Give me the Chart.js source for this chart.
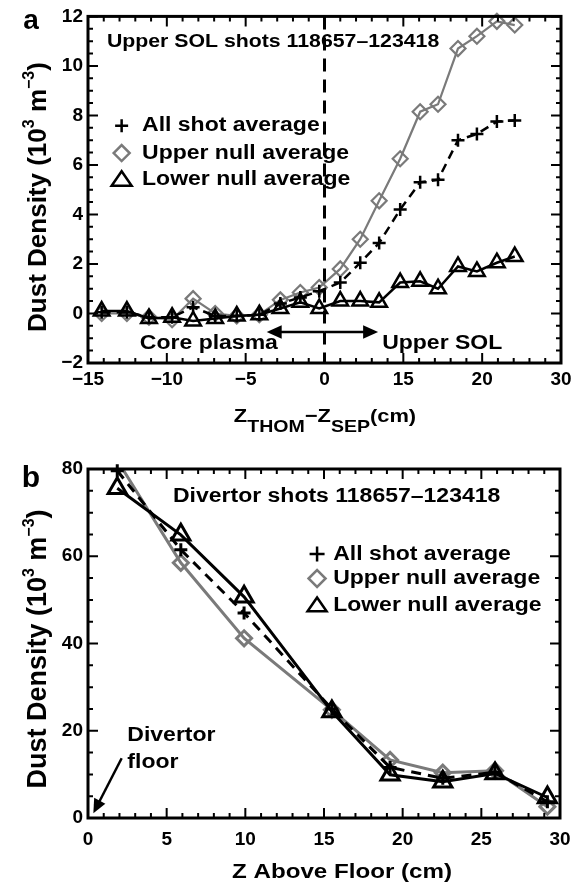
<!DOCTYPE html>
<html>
<head>
<meta charset="utf-8">
<script src="https://cdn.jsdelivr.net/npm/chart.js@4.4.0/dist/chart.umd.min.js"></script>
<style>
  html, body { margin: 0; padding: 0; background: #fff; }
  #wrap { position: relative; width: 583px; height: 884px; }
  canvas { position: absolute; left: 0; }
  #chartA { top: 0; }
  #chartB { top: 440px; }
</style>
</head>
<body>
<div id="wrap">
  <canvas id="chartA" width="583" height="440"></canvas>
  <canvas id="chartB" width="583" height="444"></canvas>
</div>
<script>
// ---- panel a: upper SOL ----
const posA = [-13.7, -11.3, -9.2, -7.0, -5.0, -2.9, -0.85, 1.3, 3.3, 5.2, 7.0, 9.0, 10.9, 12.7, 14.7, 16.6, 18.3, 20.2, 22.0, 23.9, 25.6];
const allShotA = [0.05, 0.05, -0.15, -0.15, 0.25, -0.1, -0.1, -0.05, 0.4, 0.65, 0.9, 1.25, 2.05, 2.85, 4.2, 5.3, 5.4, 7.0, 7.25, 7.75, 7.8];
const upperNullA = [0.0, 0.0, -0.15, -0.25, 0.6, 0.0, -0.1, -0.05, 0.55, 0.85, 1.05, 1.8, 3.0, 4.55, 6.25, 8.15, 8.45, 10.7, 11.2, 11.8, 11.65];
const lowerNullA = [0.1, 0.1, -0.2, -0.15, -0.3, -0.2, -0.1, -0.05, 0.2, 0.45, 0.2, 0.5, 0.5, 0.45, 1.25, 1.3, 1.0, 1.9, 1.7, 2.05, 2.3];
const xTicksA = [-15, -7.5, 0, 7.5, 15, 22.5, 30];
const xLabelsA = ['\u221215', '\u221210', '\u22125', '0', '15', '20', '30'];
const sepA = 7.5;

// ---- panel b: divertor ----
const posB = [1.86, 5.9, 9.92, 15.5, 19.2, 22.55, 25.87, 29.2];
const allShotB = [79.6, 61.5, 47.0, 25.0, 11.6, 9.1, 10.5, 3.7];
const upperNullB = [82.0, 58.5, 41.2, 24.8, 13.3, 10.4, 10.85, 2.6];
const lowerNullB = [75.6, 64.9, 50.7, 24.4, 9.9, 8.3, 10.2, 4.7];

const FONT = '"Liberation Sans", Arial, Helvetica, sans-serif';
const GRAY = '#7a7a7a';
const SX = 1.15; // horizontal stretch of the annotation text

function put(ctx, str, x, y, size, align) {
    ctx.save();
    ctx.font = 'bold ' + size + 'px ' + FONT;
    ctx.fillStyle = '#000';
    ctx.textBaseline = 'middle';
    ctx.textAlign = 'left';
    const w = ctx.measureText(str).width * SX;
    ctx.translate(align === 'center' ? x - w / 2 : x, y);
    ctx.scale(SX, 1);
    ctx.fillText(str, 0, 0);
    ctx.restore();
}

function sym(ctx, kind, x, y, r, color, lw) {
    ctx.save();
    ctx.strokeStyle = color;
    ctx.lineWidth = lw;
    ctx.setLineDash([]);
    ctx.beginPath();
    if (kind === 'cross') {
        ctx.moveTo(x - r, y); ctx.lineTo(x + r, y);
        ctx.moveTo(x, y - r); ctx.lineTo(x, y + r);
    } else if (kind === 'rectRot') {
        ctx.moveTo(x - r, y); ctx.lineTo(x, y - r); ctx.lineTo(x + r, y); ctx.lineTo(x, y + r);
        ctx.closePath();
    } else {
        ctx.moveTo(x, y - r * 0.8); ctx.lineTo(x + r, y + r * 0.65); ctx.lineTo(x - r, y + r * 0.65);
        ctx.closePath();
    }
    ctx.stroke();
    ctx.restore();
}

function arrow(ctx, x1, y1, x2, y2, head, lw) {
    const a = Math.atan2(y2 - y1, x2 - x1);
    ctx.save();
    ctx.strokeStyle = '#000';
    ctx.fillStyle = '#000';
    ctx.lineWidth = lw;
    ctx.beginPath();
    ctx.moveTo(x1, y1);
    ctx.lineTo(x2 - Math.cos(a) * head * 0.8, y2 - Math.sin(a) * head * 0.8);
    ctx.stroke();
    ctx.beginPath();
    ctx.moveTo(x2, y2);
    ctx.lineTo(x2 - head * Math.cos(a) + head * 0.45 * Math.sin(a), y2 - head * Math.sin(a) - head * 0.45 * Math.cos(a));
    ctx.lineTo(x2 - head * Math.cos(a) - head * 0.45 * Math.sin(a), y2 - head * Math.sin(a) + head * 0.45 * Math.cos(a));
    ctx.closePath();
    ctx.fill();
    ctx.restore();
}

function yTitle(ctx, cy, baseX, size, supSize) {
    const parts = [['Dust Density (10', 0], ['3', 1], [' m', 0], ['\u22123', 1], [')', 0]];
    ctx.save();
    let total = 0;
    parts.forEach(p => {
        ctx.font = 'bold ' + (p[1] ? supSize : size) + 'px ' + FONT;
        total += ctx.measureText(p[0]).width;
    });
    ctx.translate(baseX, cy);
    ctx.rotate(-Math.PI / 2);
    ctx.fillStyle = '#000';
    ctx.textBaseline = 'alphabetic';
    let x = -total / 2;
    parts.forEach(p => {
        ctx.font = 'bold ' + (p[1] ? supSize : size) + 'px ' + FONT;
        ctx.fillText(p[0], x, p[1] ? -size * 0.45 : 0);
        x += ctx.measureText(p[0]).width;
    });
    ctx.restore();
}

function xTitle(ctx, parts, cx, base, size, subSize) {
    ctx.save();
    let total = 0;
    parts.forEach(p => {
        ctx.font = 'bold ' + (p[1] ? subSize : size) + 'px ' + FONT;
        total += ctx.measureText(p[0]).width * SX;
    });
    ctx.fillStyle = '#000';
    ctx.textBaseline = 'alphabetic';
    let x = cx - total / 2;
    parts.forEach(p => {
        ctx.font = 'bold ' + (p[1] ? subSize : size) + 'px ' + FONT;
        ctx.save();
        ctx.translate(x, base + (p[1] ? 10 : 0));
        ctx.scale(SX, 1);
        ctx.fillText(p[0], 0, 0);
        ctx.restore();
        x += ctx.measureText(p[0]).width * SX;
    });
    ctx.restore();
}

function frame(chart, xMaj, xMin, yMaj, yMin) {
    const ctx = chart.ctx, a = chart.chartArea;
    const xs = chart.scales.x, ys = chart.scales.y;
    ctx.save();
    ctx.strokeStyle = '#000';
    ctx.lineWidth = 2;
    ctx.beginPath();
    const tick = (vals, len) => {
        vals.forEach(v => {
            const px = xs.getPixelForValue(v);
            ctx.moveTo(px, a.bottom); ctx.lineTo(px, a.bottom - len);
            ctx.moveTo(px, a.top); ctx.lineTo(px, a.top + len);
        });
    };
    const tickY = (vals, len) => {
        vals.forEach(v => {
            const py = ys.getPixelForValue(v);
            ctx.moveTo(a.left, py); ctx.lineTo(a.left + len, py);
            ctx.moveTo(a.right, py); ctx.lineTo(a.right - len, py);
        });
    };
    tick(xMaj, 10); tick(xMin, 5);
    tickY(yMaj, 10); tickY(yMin, 5);
    ctx.stroke();
    ctx.lineWidth = 3;
    ctx.strokeRect(a.left, a.top, a.right - a.left, a.bottom - a.top);
    ctx.restore();
}

function minors(lo, hi, step, majors) {
    const out = [];
    for (let v = lo; v <= hi + 1e-9; v += step) {
        if (!majors.some(m => Math.abs(m - v) < 1e-6)) out.push(v);
    }
    return out;
}

function series(label, xs, ys, color, style, radius, dash, lw, clip) {
    return {
        label: label,
        data: xs.map((x, i) => ({ x: x, y: ys[i] })),
        showLine: true,
        borderColor: color,
        backgroundColor: 'rgba(0,0,0,0)',
        borderWidth: lw,
        borderDash: dash,
        pointStyle: style,
        pointRadius: radius,
        pointBorderColor: color,
        pointBackgroundColor: 'rgba(0,0,0,0)',
        pointBorderWidth: lw,
        tension: 0,
        clip: clip
    };
}

const tickFont = { family: FONT, size: 19, weight: 'bold' };
const minus = v => (v < 0 ? '\u2212' + Math.abs(v) : String(v));

// 上部 SOL 图 (a)
new Chart(document.getElementById('chartA'), {
    type: 'scatter',
    data: {
        datasets: [
            series('Lower null average', posA, lowerNullA, '#000', 'triangle', 9, [], 2.5, false),
            series('All shot average', posA, allShotA, '#000', 'cross', 6.5, [9, 6], 2.5, false),
            series('Upper null average', posA, upperNullA, GRAY, 'rectRot', 7.5, [], 2.2, false)
        ]
    },
    options: {
        responsive: false,
        animation: false,
        events: [],
        layout: { padding: { left: 0, right: 22, top: 14, bottom: 0 }, autoPadding: false },
        plugins: { legend: { display: false }, tooltip: { enabled: false } },
        scales: {
            x: {
                type: 'linear', min: -15, max: 30,
                grid: { display: false, drawTicks: false }, border: { display: false },
                afterBuildTicks: s => { s.ticks = xTicksA.map(v => ({ value: v })); },
                afterFit: s => { s.height = 77; },
                ticks: { padding: 5, color: '#000', font: tickFont, maxRotation: 0, autoSkip: false,
                    callback: (v, i) => xLabelsA[i] }
            },
            y: {
                min: -2, max: 12,
                grid: { display: false, drawTicks: false }, border: { display: false },
                afterFit: s => { s.width = 88; },
                ticks: { stepSize: 2, padding: 5, color: '#000', font: tickFont, callback: minus }
            }
        }
    },
    plugins: [{
        id: 'panelA',
        afterDraw(chart) {
            const ctx = chart.ctx, xs = chart.scales.x, ys = chart.scales.y, a = chart.chartArea;
            const X = v => xs.getPixelForValue(v), Y = v => ys.getPixelForValue(v);
            put(ctx, 'Upper SOL shots 118657\u2013123418', X(-13.2), Y(10.95), 18.5, 'left');
            sym(ctx, 'cross', X(-11.8), Y(7.58), 6.5, '#000', 2.5);
            sym(ctx, 'rectRot', X(-11.8), Y(6.48), 8, GRAY, 2.5);
            sym(ctx, 'tri', X(-11.8), Y(5.42), 10, '#000', 2.5);
            put(ctx, 'All shot average', X(-9.86), Y(7.58), 20, 'left');
            put(ctx, 'Upper null average', X(-9.86), Y(6.48), 20, 'left');
            put(ctx, 'Lower null average', X(-9.86), Y(5.42), 20, 'left');
            arrow(ctx, X(sepA), Y(-0.75), X(2.0), Y(-0.75), 15, 2.5);
            arrow(ctx, X(sepA), Y(-0.75), X(12.6), Y(-0.75), 15, 2.5);
            put(ctx, 'Core plasma', X(-3.5), Y(-1.2), 20, 'center');
            put(ctx, 'Upper SOL', X(18.7), Y(-1.2), 20, 'center');
            // separatrix
            ctx.save();
            ctx.strokeStyle = '#000';
            ctx.lineWidth = 3;
            ctx.setLineDash([13, 8]);
            ctx.beginPath();
            ctx.moveTo(X(sepA), a.top);
            ctx.lineTo(X(sepA), a.bottom);
            ctx.stroke();
            ctx.restore();
            frame(chart, xTicksA, minors(-15, 30, 1.5, xTicksA), [-2, 0, 2, 4, 6, 8, 10, 12], minors(-2, 12, 0.5, [-2, 0, 2, 4, 6, 8, 10, 12]));
            yTitle(ctx, 197, 46, 26, 16);
            xTitle(ctx, [['Z', 0], ['THOM', 1], ['\u2212', 0], ['Z', 0], ['SEP', 1], ['(cm)', 0]], 325, 422, 19, 17);
            ctx.save();
            ctx.font = 'bold 28px ' + FONT;
            ctx.fillStyle = '#000';
            ctx.textAlign = 'center';
            ctx.textBaseline = 'middle';
            ctx.fillText('a', 31, 21);
            ctx.restore();
        }
    }]
});

// 偏滤器图 (b)
new Chart(document.getElementById('chartB'), {
    type: 'scatter',
    data: {
        datasets: [
            series('Lower null average', posB, lowerNullB, '#000', 'triangle', 10.5, [], 3, { left: 20, right: 20, top: 0, bottom: 20 }),
            series('All shot average', posB, allShotB, '#000', 'cross', 6.5, [10, 7], 3, { left: 20, right: 20, top: 12, bottom: 20 }),
            series('Upper null average', posB, upperNullB, GRAY, 'rectRot', 7.5, [], 3, { left: 20, right: 20, top: 0, bottom: 20 })
        ]
    },
    options: {
        responsive: false,
        animation: false,
        events: [],
        layout: { padding: { left: 0, right: 23, top: 29, bottom: 0 }, autoPadding: false },
        plugins: { legend: { display: false }, tooltip: { enabled: false } },
        scales: {
            x: {
                type: 'linear', min: 0, max: 30,
                grid: { display: false, drawTicks: false }, border: { display: false },
                afterFit: s => { s.height = 66; },
                ticks: { stepSize: 5, padding: 10, color: '#000', font: tickFont, maxRotation: 0, autoSkip: false }
            },
            y: {
                min: 0, max: 80,
                grid: { display: false, drawTicks: false }, border: { display: false },
                afterFit: s => { s.width = 88; },
                ticks: { stepSize: 20, padding: 5, color: '#000', font: tickFont }
            }
        }
    },
    plugins: [{
        id: 'panelB',
        afterDraw(chart) {
            const ctx = chart.ctx, xs = chart.scales.x, ys = chart.scales.y;
            const X = v => xs.getPixelForValue(v), Y = v => ys.getPixelForValue(v);
            put(ctx, 'Divertor shots 118657\u2013123418', X(5.4), Y(73.6), 20, 'left');
            sym(ctx, 'cross', X(14.56), Y(60.5), 7.5, '#000', 2.5);
            sym(ctx, 'rectRot', X(14.56), Y(54.9), 8.5, GRAY, 2.5);
            sym(ctx, 'tri', X(14.56), Y(48.8), 9.5, '#000', 2.5);
            put(ctx, 'All shot average', X(15.58), Y(60.5), 20, 'left');
            put(ctx, 'Upper null average', X(15.58), Y(54.9), 20, 'left');
            put(ctx, 'Lower null average', X(15.58), Y(48.8), 20, 'left');
            put(ctx, 'Divertor', X(2.5), Y(18.9), 20, 'left');
            put(ctx, 'floor', X(2.5), Y(12.8), 20, 'left');
            arrow(ctx, X(2.14), Y(13.7), X(0.34), Y(1.1), 14, 2.5);
            frame(chart, [0, 5, 10, 15, 20, 25, 30], minors(0, 30, 1, [0, 5, 10, 15, 20, 25, 30]), [0, 20, 40, 60, 80], minors(0, 80, 5, [0, 20, 40, 60, 80]));
            yTitle(ctx, 209, 46, 27, 16);
            xTitle(ctx, [['Z Above Floor (cm)', 0]], 342, 438, 21, 21);
            ctx.save();
            ctx.font = 'bold 30px ' + FONT;
            ctx.fillStyle = '#000';
            ctx.textAlign = 'center';
            ctx.textBaseline = 'middle';
            ctx.fillText('b', 31, 39);
            ctx.restore();
        }
    }]
});
</script>
</body>
</html>
